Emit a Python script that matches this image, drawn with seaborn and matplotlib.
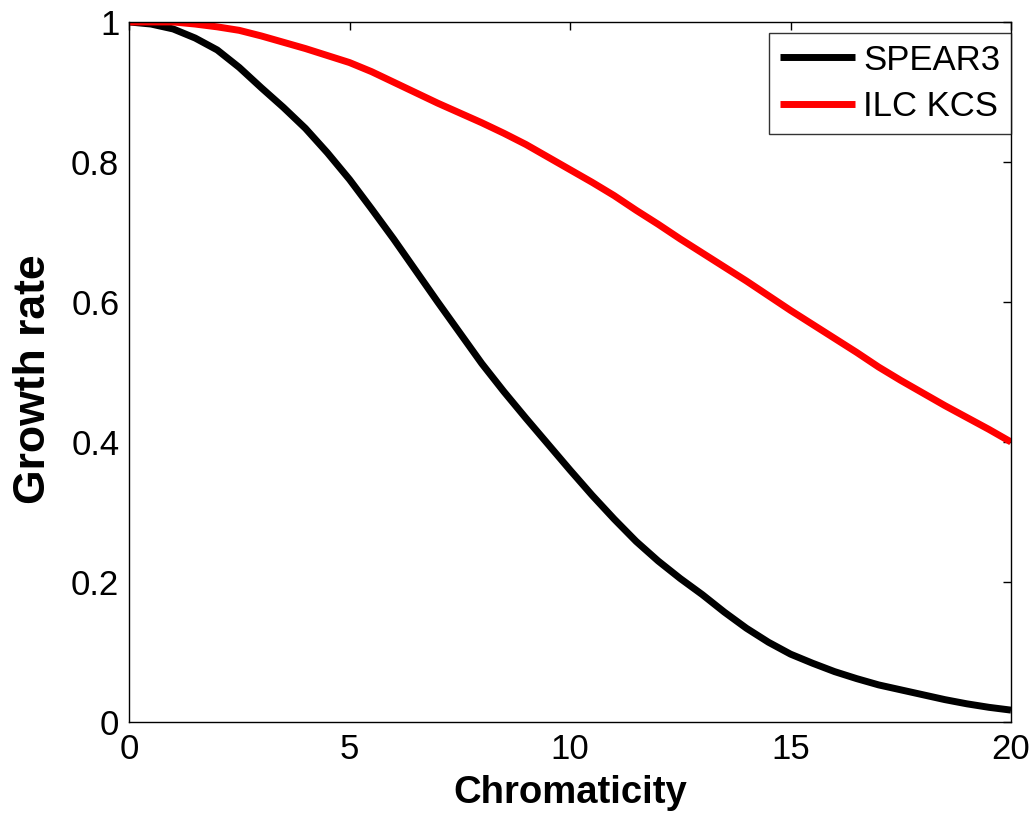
import numpy as np
import pandas as pd
import matplotlib
matplotlib.use("Agg")
import matplotlib.pyplot as plt
import seaborn as sns
from matplotlib.ticker import FuncFormatter

chromaticity = [0, 0.5, 1, 1.5, 2, 2.5, 3, 3.5, 4, 4.5, 5, 5.5, 6, 6.5, 7, 7.5, 8, 8.5,
                9, 9.5, 10, 10.5, 11, 11.5, 12, 12.5, 13, 13.5, 14, 14.5, 15, 15.5,
                16, 16.5, 17, 17.5, 18, 18.5, 19, 19.5, 20]
spear3 = [1.0, 0.997, 0.99, 0.977, 0.96, 0.935, 0.906, 0.878, 0.848, 0.813, 0.775,
          0.733, 0.69, 0.645, 0.60, 0.556, 0.512, 0.472, 0.434, 0.397, 0.36,
          0.324, 0.29, 0.258, 0.23, 0.205, 0.182, 0.157, 0.134, 0.114, 0.097,
          0.084, 0.072, 0.062, 0.053, 0.046, 0.039, 0.032, 0.026, 0.021, 0.017]
ilc_kcs = [1.0, 1.0, 1.0, 0.997, 0.993, 0.988, 0.98, 0.971, 0.962, 0.952, 0.942,
           0.929, 0.914, 0.899, 0.884, 0.87, 0.856, 0.841, 0.825, 0.807, 0.789,
           0.771, 0.752, 0.731, 0.711, 0.69, 0.67, 0.65, 0.63, 0.609, 0.588,
           0.568, 0.548, 0.528, 0.507, 0.488, 0.47, 0.452, 0.435, 0.418, 0.40]
series_names = ["SPEAR3", "ILC KCS"]
colors = ["#000000", "#ff0000"]
x_ticks = [0, 5, 10, 15, 20]
y_ticks = [0, 0.2, 0.4, 0.6, 0.8, 1.0]

df = pd.DataFrame({
    "Chromaticity": chromaticity * 2,
    "Growth rate": spear3 + ilc_kcs,
    "series": [series_names[0]] * len(chromaticity) + [series_names[1]] * len(chromaticity),
})

sns.set_style("white")
plt.rcParams["font.family"] = ["Liberation Sans", "DejaVu Sans"]
for k in ["text.color", "axes.labelcolor", "xtick.color", "ytick.color",
          "xtick.labelcolor", "ytick.labelcolor", "axes.edgecolor"]:
    plt.rcParams[k] = "black"
plt.rcParams["xtick.direction"] = "in"
plt.rcParams["ytick.direction"] = "in"
plt.rcParams["lines.solid_capstyle"] = "butt"

fig = plt.figure(figsize=(10.33, 8.13), dpi=100)
ax = fig.add_axes([0.1249, 0.1119, 0.8538, 0.8611])

sns.lineplot(data=df, x="Chromaticity", y="Growth rate", hue="series",
             palette=dict(zip(series_names, colors)), linewidth=5, ax=ax)

ax.set_xlim(0, 20)
ax.set_ylim(0, 1)
ax.set_xticks(x_ticks)
ax.set_yticks(y_ticks)
ax.yaxis.set_major_formatter(FuncFormatter(lambda v, p: f"{v:g}"))
ax.tick_params(axis="both", which="both", direction="in", length=6, width=1,
               labelsize=25, top=True, right=True, color="black")
ax.tick_params(axis="x", pad=8)
ax.tick_params(axis="y", pad=7)
for s in ax.spines.values():
    s.set_visible(True)
    s.set_color("black")
    s.set_linewidth(1.0)

ax.set_xlabel("Chromaticity", fontsize=27.5, fontweight="bold", va="baseline")
ax.xaxis.set_label_coords(0.5, -0.116)
ax.set_ylabel("Growth rate", fontsize=32, fontweight="bold", va="center")
ax.yaxis.set_label_coords(-0.108, 0.49)

leg = ax.legend(loc="upper right", bbox_to_anchor=(1.0, 0.984), fontsize=25,
                frameon=True, fancybox=False, edgecolor="black", handlelength=2.16,
                borderaxespad=0, handletextpad=0.25, labelspacing=0.4, borderpad=0.3)
leg.get_frame().set_linewidth(1.0)
for h in leg.get_lines():
    h.set_solid_capstyle("butt")
leg.set_title(None)

fig.savefig("out.png", dpi=100, facecolor="white")
